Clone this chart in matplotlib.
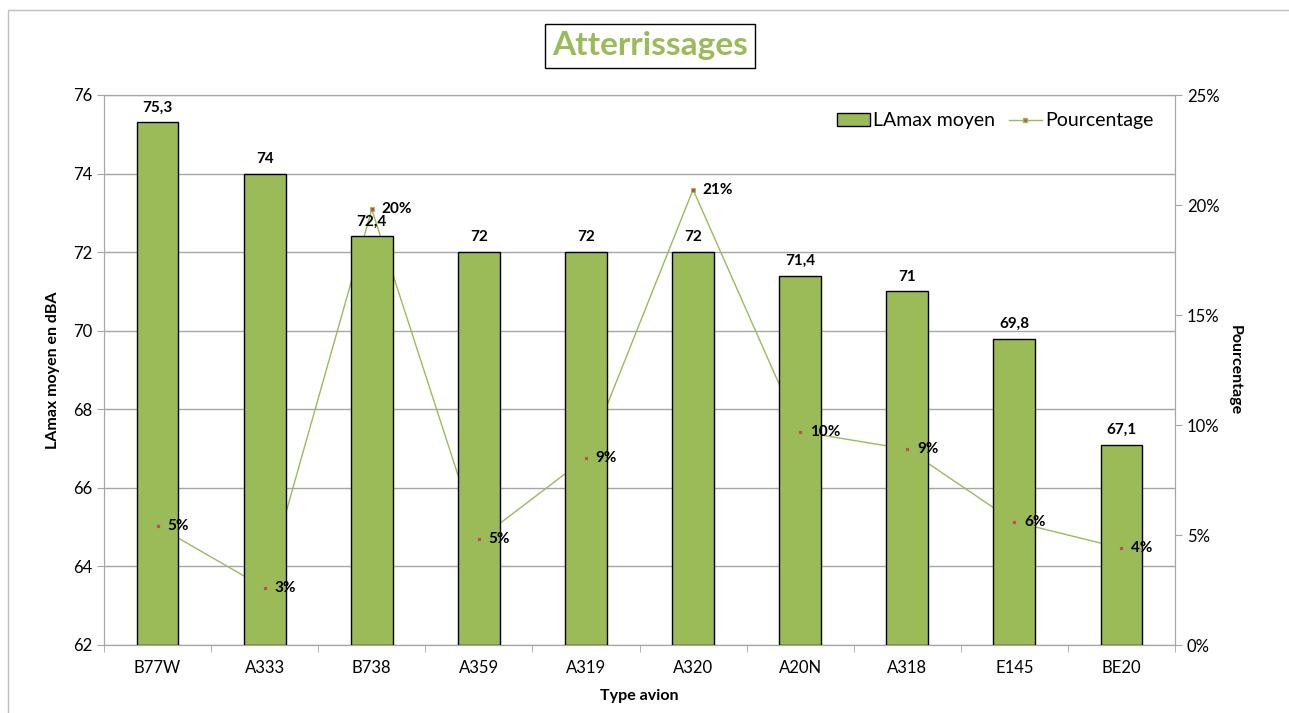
import matplotlib.pyplot as plt
import matplotlib.patches as mpatches
from matplotlib.ticker import FuncFormatter
import numpy as np

plt.rcParams['font.family'] = ['Lato', 'DejaVu Sans']

types = ['B77W', 'A333', 'B738', 'A359', 'A319', 'A320', 'A20N', 'A318', 'E145', 'BE20']
lamax = [75.3, 74, 72.4, 72, 72, 72, 71.4, 71, 69.8, 67.1]
lamax_labels = ['75,3', '74', '72,4', '72', '72', '72', '71,4', '71', '69,8', '67,1']
pct = [5.4, 2.6, 19.8, 4.8, 8.5, 20.7, 9.7, 8.9, 5.6, 4.4]
pct_labels = ['5%', '3%', '20%', '5%', '9%', '21%', '10%', '9%', '6%', '4%']

green = '#9BBB59'
red = '#C0504D'
grid_col = '#A6A6A6'

W, H = 1289, 713
fig = plt.figure(figsize=(W / 100, H / 100), dpi=100)
ax = fig.add_axes([104 / W, 1 - 645 / H, (1175 - 104) / W, (645 - 95) / H])
ax2 = ax.twinx()

x = np.arange(len(types))

# bars above the line (line hidden behind bars, markers still visible)
ax.set_zorder(1)
ax.patch.set_visible(False)
ax.bar(x, [v - 62 for v in lamax], bottom=62, width=0.39, color=green,
       edgecolor='black', linewidth=1, zorder=3)
ax.set_ylim(62, 76)
ax.set_xlim(-0.5, len(types) - 0.5)
ax.set_yticks(range(62, 77, 2))
ax.yaxis.grid(True, color=grid_col, linewidth=1)
ax.set_axisbelow(True)
for i, v in enumerate(lamax):
    ax.text(x[i], v + 0.2, lamax_labels[i], ha='center', va='bottom',
            fontsize=11, fontweight='bold', zorder=5)

ax2.plot(x, pct, color=green, linewidth=1, zorder=1)
ax2.set_ylim(0, 25)
ax2.set_yticks(range(0, 26, 5))
ax2.yaxis.set_major_formatter(FuncFormatter(lambda v, p: f'{int(v)}%'))
# markers drawn in the bar axes so they stay on top
pct_to_db = [62 + p / 25 * 14 for p in pct]
ax.plot(x, pct_to_db, linestyle='none', marker='s', markersize=3,
        markerfacecolor=red, markeredgecolor=green, markeredgewidth=0.6, zorder=6)
for i, p in enumerate(pct_to_db):
    ax.text(x[i] + 0.09, p, pct_labels[i], ha='left', va='center',
            fontsize=11, fontweight='bold', zorder=6)

for a in (ax, ax2):
    for s in a.spines.values():
        s.set_color(grid_col)
    a.tick_params(colors=grid_col, labelcolor='black', labelsize=12, length=5)

ax.set_xticks(x)
ax.set_xticklabels(types)
ax.tick_params(axis='x', length=0, pad=11)
ax.set_xticks(np.arange(-0.5, len(types), 1), minor=True)
ax.tick_params(axis='x', which='minor', length=5, color=grid_col)

ax.set_ylabel('LAmax moyen en dBA', fontsize=11.5, fontweight='bold', labelpad=9)
ax.set_xlabel('Type avion', fontsize=11.5, fontweight='bold', labelpad=9)
ax2.set_ylabel('Pourcentage', fontsize=11.5, fontweight='bold', rotation=-90, labelpad=16)

# legend
h_bar = mpatches.Patch(facecolor=green, edgecolor='black', label='LAmax moyen')
h_line, = ax2.plot([], [], color=green, linewidth=1, marker='s', markersize=2.5,
                   markerfacecolor=red, markeredgecolor=green, label='Pourcentage')
ax.legend(handles=[h_bar, h_line], loc='upper right', bbox_to_anchor=(0.996, 1.0),
          ncol=2, frameon=False, fontsize=14, handlelength=1.7, handletextpad=0.15,
          columnspacing=0.7)

# title box
fig.text(650 / W, 1 - 46 / H, 'Atterrissages', ha='center', va='center',
         fontsize=24, fontweight='bold', color=green,
         bbox=dict(boxstyle='square,pad=0.22', facecolor='white', edgecolor='black', linewidth=1))

# outer chart border
fig.patches.append(mpatches.Rectangle((8 / W, -0.1), 1.2, 1 - 10 / H + 0.1,
                                      transform=fig.transFigure, fill=False,
                                      edgecolor='#BFBFBF', linewidth=1))

fig.savefig('out.png', dpi=100)
